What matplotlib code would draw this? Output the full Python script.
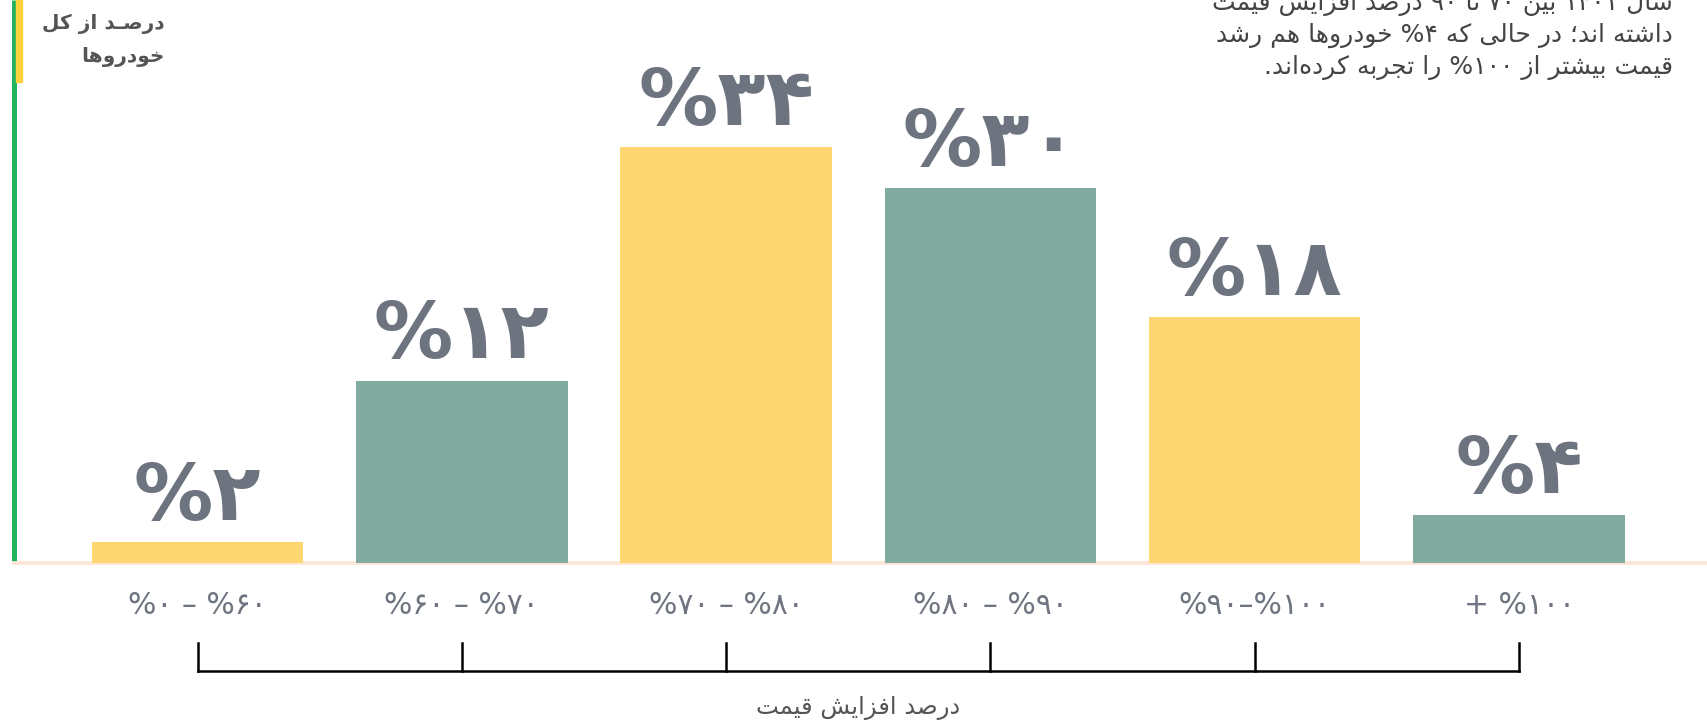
import re
import matplotlib
matplotlib.use('Agg')
import matplotlib.pyplot as plt
import matplotlib.transforms as mtransforms
from matplotlib.patches import Rectangle

# --- data -------------------------------------------------------------
ranges = ['%۰ – %۶۰', '%۶۰ – %۷۰', '%۷۰ – %۸۰', '%۸۰ – %۹۰', '%۹۰–%۱۰۰', '+ %۱۰۰']
share_label = [2, 12, 34, 30, 18, 4]                  # printed values
bar_height = [1.7, 14.9, 34.0, 30.6, 20.1, 3.9]       # heights as drawn
bar_colors = ['#fdd670', '#81aaa0', '#fdd670', '#81aaa0', '#fdd670', '#81aaa0']

y_title = ['درصـد از کل', 'خودروها']
x_title = 'درصد افزایش قیمت'
note_lines = ['سال ۱۴۰۱ بین ۷۰ تا ۹۰ درصد افزایش قیمت',
              'داشته اند؛ در حالی که ۴% خودروها هم رشد',
              'قیمت بیشتر از ۱۰۰% را تجربه کرده\u200cاند.']

# --- minimal persian shaping (matplotlib has no RTL / joining) --------
FORMS = {  # isolated, final, initial, medial
    'ا': '\ufe8d\ufe8e', 'د': '\ufea9\ufeaa', 'ر': '\ufead\ufeae',
    'ز': '\ufeaf\ufeb0', 'و': '\ufeed\ufeee',
    'ب': '\ufe8f\ufe90\ufe91\ufe92', 'ت': '\ufe95\ufe96\ufe97\ufe98',
    'ج': '\ufe9d\ufe9e\ufe9f\ufea0', 'ح': '\ufea1\ufea2\ufea3\ufea4',
    'خ': '\ufea5\ufea6\ufea7\ufea8', 'س': '\ufeb1\ufeb2\ufeb3\ufeb4',
    'ش': '\ufeb5\ufeb6\ufeb7\ufeb8', 'ص': '\ufeb9\ufeba\ufebb\ufebc',
    'ف': '\ufed1\ufed2\ufed3\ufed4', 'ق': '\ufed5\ufed6\ufed7\ufed8',
    'ل': '\ufedd\ufede\ufedf\ufee0', 'م': '\ufee1\ufee2\ufee3\ufee4',
    'ن': '\ufee5\ufee6\ufee7\ufee8', 'ه': '\ufee9\ufeea\ufeeb\ufeec',
    'ک': '\ufb8e\ufb8f\ufb90\ufb91', 'ی': '\ufbfc\ufbfd\ufbfe\ufbff',
    'ـ': '\u0640\u0640\u0640\u0640',
}


def fa(text):
    out = []
    for i, c in enumerate(text):
        if c not in FORMS:
            out.append(c)
            continue
        f = FORMS[c]
        prev = text[i - 1] if i > 0 else ''
        nxt = text[i + 1] if i < len(text) - 1 else ''
        jp = prev in FORMS and len(FORMS[prev]) == 4
        jn = len(f) == 4 and nxt in FORMS
        if jp and jn:
            out.append(f[3])
        elif jp:
            out.append(f[1])
        elif jn:
            out.append(f[2])
        else:
            out.append(f[0])
    s = ''.join(out).replace('\u200c', '')
    tokens = re.findall(r'[۰-۹0-9]+|.', s)
    return ''.join(reversed(tokens))


def fa_num(n):
    return str(n).translate(str.maketrans('0123456789', '۰۱۲۳۴۵۶۷۸۹'))


# --- figure -----------------------------------------------------------
W, H = 1707, 724
fig = plt.figure(figsize=(W / 100, H / 100), dpi=100)
fig.patch.set_facecolor('white')

left_px, base_px = 13.5, 563
ax = fig.add_axes([left_px / W, (H - base_px) / H, 1 - left_px / W, base_px / H])

x = list(range(len(ranges)))
ax.bar(x, bar_height, width=0.8, color=bar_colors, zorder=3)

for xi, h, v in zip(x, bar_height, share_label):
    ax.annotate('%' + fa_num(v), (xi, h), xytext=(0, 16), textcoords='offset points',
                ha='center', va='baseline', fontsize=57, fontweight='bold',
                color='#6d7480', zorder=4)

ax.set_xlim((left_px - 197.5) / 264.3, (W - 197.5) / 264.3)
ax.set_ylim(0, base_px / 12.24)

for side in ['top', 'right']:
    ax.spines[side].set_visible(False)
ax.spines['left'].set_color('#22b35e')
ax.spines['left'].set_linewidth(3.6)
ax.spines['left'].set_capstyle('butt')
ax.spines['bottom'].set_color('#fde6d6')
ax.spines['bottom'].set_linewidth(2.8)
ax.set_yticks([])
ax.set_xticks(x)
ax.set_xticklabels(ranges, fontsize=21.5, color='#6e7580')
ax.tick_params(axis='x', length=0, pad=20)

# yellow accent beside the axis line
fig.patches.append(Rectangle((16 / W, 1 - 82 / H), 6 / W, 82 / H,
                             transform=fig.transFigure, color='#fdd13a', zorder=5))

# bracket under the categories
tr = mtransforms.blended_transform_factory(ax.transData, fig.transFigure)
yb = 1 - 671 / H
yt = 1 - 643 / H
ax.plot([x[0], x[-1]], [yb, yb], color='black', lw=1.8, transform=tr, clip_on=False)
for xi in x:
    ax.plot([xi, xi], [yb, yt], color='black', lw=1.8, transform=tr, clip_on=False)

fig.text(858 / W, 1 - 708 / H, fa(x_title), ha='center', va='center',
         fontsize=17.5, color='#555555')

# axis title, top-left
for i, line in enumerate(y_title):
    fig.text(165 / W, 1 - (24 + 33 * i) / H, fa(line), ha='right', va='center',
             fontsize=14.5, fontweight='bold', color='#555555')

# note, top-right (first line runs off the top, as in the source)
for i, line in enumerate(note_lines):
    fig.text(1673 / W, 1 - (3 + 32.5 * i) / H, fa(line), ha='right', va='center',
             fontsize=18, color='#444444')

fig.savefig('out.png', dpi=100, facecolor='white')
